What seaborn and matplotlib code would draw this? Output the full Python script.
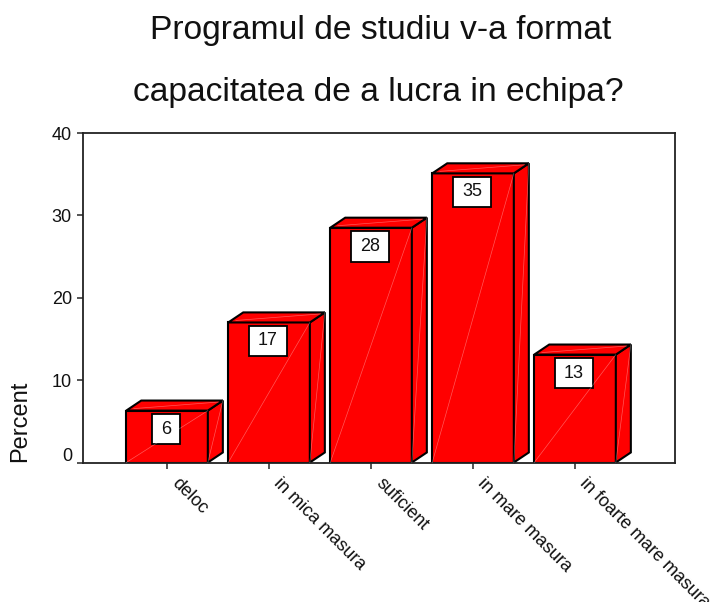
import matplotlib
matplotlib.use("Agg")
import matplotlib.pyplot as plt
import matplotlib.transforms as mtrans
import pandas as pd
import seaborn as sns

categories = ["deloc", "in mica masura", "suficient", "in mare masura", "in foarte mare masura"]
percent = [6.3, 17.0, 28.5, 35.1, 13.1]
labels = ["6", "17", "28", "35", "13"]
title_lines = ["Programul de studiu v-a format", "capacitatea de a lucra in echipa?"]

sns.set_theme(style="white")
plt.rcParams["font.family"] = ["Liberation Sans", "DejaVu Sans"]

W, H = 710, 602
fig = plt.figure(figsize=(W / 100, H / 100), dpi=100, facecolor="white")
ax = fig.add_axes([83 / W, 1 - 462.5 / H, (675 - 83) / W, (462.5 - 133) / H])

df = pd.DataFrame({"category": categories, "percent": percent})
sns.barplot(data=df, x="category", y="percent", color="#ff0000", saturation=1,
            width=0.8, edgecolor="black", linewidth=1.5, ax=ax, zorder=3)
ax.set_xlim(-0.824, 4.98)
ax.set_ylim(0, 40)
ax.set_yticks([0, 10, 20, 30, 40])

DX, DY = 0.147, 1.22
LINE = dict(color="white", lw=0.5, alpha=0.35, zorder=6)
for bar, lab in zip(ax.patches, labels):
    x0, w, h = bar.get_x(), bar.get_width(), bar.get_height()
    x1 = x0 + w
    ax.fill([x1, x1 + DX, x1 + DX, x1], [0, DY, h + DY, h], facecolor="#ff0000",
            edgecolor="black", lw=1.5, zorder=3, joinstyle="miter", clip_on=False)
    ax.fill([x0, x0 + DX, x1 + DX, x1], [h, h + DY, h + DY, h], facecolor="#ff0000",
            edgecolor="black", lw=1.5, zorder=3, joinstyle="miter", clip_on=False)
    ax.annotate(lab, xy=(x0 + w / 2, h), xytext=(-1 / 1.389, -18.5 / 1.389), textcoords="offset points",
                ha="center", va="center", fontsize=13, color="#111111", zorder=5,
                bbox=dict(boxstyle="square,pad=0.5", mutation_aspect=0.75, fc="white", ec="black", lw=1.3))
    ax.plot([x0, x1], [0, h], **LINE)
    ax.plot([x1, x1 + DX], [0, h + DY], **LINE)
    ax.plot([x0 + DX * 0.5, x1 + DX * 0.7], [h + DY * 0.2, h + DY * 0.85], **LINE)

for s in ax.spines.values():
    s.set_visible(True)
    s.set_color("#222222")
    s.set_linewidth(1.3)
    s.set_zorder(4)

ax.set_xlabel("")
ax.set_ylabel("")
ax.tick_params(axis="y", left=True, length=4, width=1.1, labelsize=13, pad=4, labelcolor="#111111")
ax.tick_params(axis="x", bottom=True, length=4, width=1.1, pad=5)
ax.set_xticks(range(len(categories)))
ax.set_xticklabels(categories, rotation=-45, ha="left", va="top", rotation_mode="anchor",
                   fontsize=13, color="#111111")
shift = mtrans.ScaledTranslation(13.5 / 100, 0, fig.dpi_scale_trans)
for t in ax.get_xticklabels():
    t.set_transform(t.get_transform() + shift)
lift = mtrans.ScaledTranslation(0, 8 / 100, fig.dpi_scale_trans)
zero_label = ax.get_yticklabels()[0]
zero_label.set_transform(zero_label.get_transform() + lift)

fig.text(20 / W, 1 - 462 / H, "Percent", rotation=90, ha="center", va="bottom", fontsize=17, color="#111111")
fig.text(381 / W, 1 - 30 / H, title_lines[0], ha="center", va="center", fontsize=24.2, color="#111111")
fig.text(378 / W, 1 - 92 / H, title_lines[1], ha="center", va="center", fontsize=24.2, color="#111111")

fig.savefig("out.png", dpi=100, facecolor="white")
